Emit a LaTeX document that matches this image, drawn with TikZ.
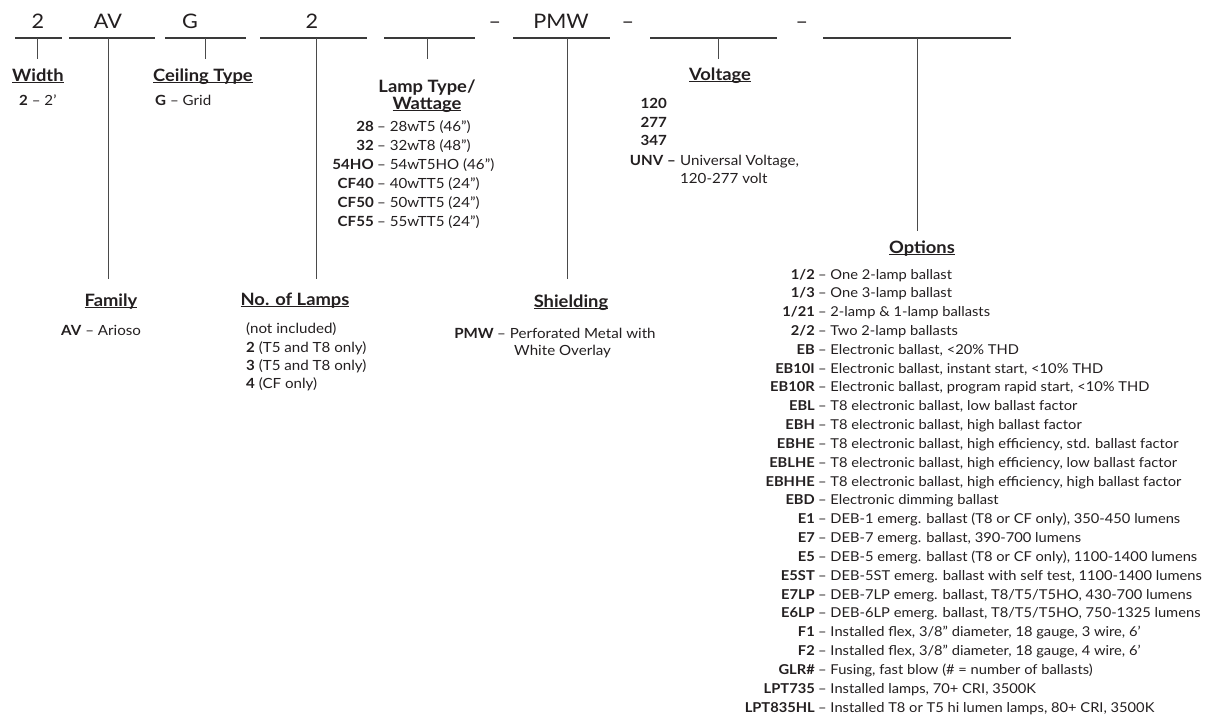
\documentclass[tikz,border=0pt]{standalone}
\usepackage{fontspec}
\setmainfont{Lato}[FakeStretch=1.08]
\definecolor{txt}{HTML}{231F20}
\definecolor{linec}{HTML}{3A3A3A}
\definecolor{tickc}{HTML}{4A4A4A}
\newcommand\ulx[1]{\setbox0\hbox{#1}\rlap{\rule[-2.4pt]{\wd0}{1.1pt}}\box0}
\begin{document}
\begin{tikzpicture}[x=1pt,y=-1pt]
\tikzset{
 code/.style={font=\fontsize{20}{20}\selectfont, anchor=base, inner sep=0pt, text=txt},
 seg/.style={draw=linec, line width=1.3pt},
 tickline/.style={draw=tickc, line width=1pt},
 ttl/.style={font=\fontsize{17}{17}\selectfont\bfseries, anchor=base, inner sep=0pt, text=txt},
 item/.style={font=\fontsize{14}{14}\selectfont, anchor=base west, inner sep=0pt, text=txt},
 key/.style={font=\fontsize{14}{14}\selectfont\bfseries, anchor=base east, inner sep=0pt, text=txt},
 oitem/.style={item, font=\fontsize{13.6}{13.6}\selectfont},
 okey/.style={key, font=\fontsize{13.6}{13.6}\selectfont\bfseries},
}
\useasboundingbox[fill=white] (0,0) rectangle (1207,715);

% top codes
\node[code] (c1) at (38,28) {2};
\node[code] (c2) at (108,28) {AV};
\node[code] (c3) at (190,28) {G};
\node[code] (c4) at (312,28) {2};
\node[code] (d1) at (495,28) {–};
\node[code] (c6) at (561,28) {PMW};
\node[code] (d2) at (628,28) {–};
\node[code] (d3) at (802,28) {–};

% underline segments
\coordinate (s1a) at (15,38);  \coordinate (s1b) at (62,38);
\coordinate (s2a) at (69,38);  \coordinate (s2b) at (155,38);
\coordinate (s3a) at (165,38); \coordinate (s3b) at (246,38);
\coordinate (s4a) at (260,38); \coordinate (s4b) at (367,38);
\coordinate (s5a) at (384,38); \coordinate (s5b) at (475,38);
\coordinate (s6a) at (513,38); \coordinate (s6b) at (610,38);
\coordinate (s7a) at (650,38); \coordinate (s7b) at (777,38);
\coordinate (s8a) at (823,38); \coordinate (s8b) at (1011,38);
\foreach \i in {1,...,8} \draw[seg] (s\i a) -- (s\i b);

% ticks
\coordinate (t1a) at (37,38);  \coordinate (t1b) at (37,59);
\coordinate (t2a) at (108,38); \coordinate (t2b) at (108,279);
\coordinate (t3a) at (205,38); \coordinate (t3b) at (205,59);
\coordinate (t4a) at (316,38); \coordinate (t4b) at (316,279);
\coordinate (t5a) at (427,38); \coordinate (t5b) at (427,59);
\coordinate (t6a) at (567,38); \coordinate (t6b) at (567,279);
\coordinate (t7a) at (718,38); \coordinate (t7b) at (718,59);
\coordinate (t8a) at (917,38); \coordinate (t8b) at (917,231);
\foreach \i in {1,...,8} \draw[tickline] (t\i a) -- (t\i b);

% Width
\node[ttl, anchor=base west] (wt) at (12,81) {\ulx{Width}};
\node[item] (wi) at (19,105) {\textbf{2} – 2'};

% Ceiling type
\node[ttl, anchor=base west] (ct) at (153,81) {\ulx{Ceiling Type}};
\node[item] (ci) at (155,105) {\textbf{G} – Grid};

% Lamp type
\node[ttl] (lt1) at (427,92) {Lamp Type/};
\node[ttl] (lt2) at (427,109) {\ulx{Wattage}};
\node[key] (lk1) at (374,131) {28};   \node[item] (li1) at (377,131) {– 28wT5 (46”)};
\node[key] (lk2) at (374,150) {32};   \node[item] (li2) at (377,150) {– 32wT8 (48”)};
\node[key] (lk3) at (374,169) {54HO}; \node[item] (li3) at (377,169) {– 54wT5HO (46”)};
\node[key] (lk4) at (374,188) {CF40}; \node[item] (li4) at (377,188) {– 40wTT5 (24”)};
\node[key] (lk5) at (374,207) {CF50}; \node[item] (li5) at (377,207) {– 50wTT5 (24”)};
\node[key] (lk6) at (374,226) {CF55}; \node[item] (li6) at (377,226) {– 55wTT5 (24”)};

% Voltage
\node[ttl] (vt) at (720,80) {\ulx{Voltage}};
\node[key] (vk1) at (667,108) {120};
\node[key] (vk2) at (667,127) {277};
\node[key] (vk3) at (667,145) {347};
\node[key] (vk4) at (676,165) {UNV –};
\node[item] (vi4) at (680,165) {Universal Voltage,};
\node[item] (vi5) at (680,183) {120-277 volt};

% Family
\node[ttl] (ft) at (111,306) {\ulx{Family}};
\node[item] (fi) at (61,335) {\textbf{AV} – Arioso};

% No. of lamps
\node[ttl] (nt) at (295,305) {\ulx{No. of Lamps}};
\node[item] (ni1) at (246,333) {(not included)};
\node[item] (ni2) at (246,352) {\textbf{2} (T5 and T8 only)};
\node[item] (ni3) at (246,370) {\textbf{3} (T5 and T8 only)};
\node[item] (ni4) at (246,388) {\textbf{4} (CF only)};

% Shielding
\node[ttl] (st) at (571,307) {\ulx{Shielding}};
\node[key] (sk) at (494,338) {PMW};
\node[item] (si1) at (497,338) {– Perforated Metal with};
\node[item] (si2) at (514,355) {White Overlay};

% Options
\node[ttl] (ot) at (922,253) {\ulx{Options}};
\newcommand\optitem[3]{%
 \node[okey] (ok#1) at (815,{279+#1*18.83}) {#2};
 \node[oitem] (od#1) at (818,{279+#1*18.83}) {– #3};}
\optitem{0}{1/2}{One 2-lamp ballast}
\optitem{1}{1/3}{One 3-lamp ballast}
\optitem{2}{1/21}{2-lamp \& 1-lamp ballasts}
\optitem{3}{2/2}{Two 2-lamp ballasts}
\optitem{4}{EB}{Electronic ballast, <20\% THD}
\optitem{5}{EB10I}{Electronic ballast, instant start, <10\% THD}
\optitem{6}{EB10R}{Electronic ballast, program rapid start, <10\% THD}
\optitem{7}{EBL}{T8 electronic ballast, low ballast factor}
\optitem{8}{EBH}{T8 electronic ballast, high ballast factor}
\optitem{9}{EBHE}{T8 electronic ballast, high efficiency, std. ballast factor}
\optitem{10}{EBLHE}{T8 electronic ballast, high efficiency, low ballast factor}
\optitem{11}{EBHHE}{T8 electronic ballast, high efficiency, high ballast factor}
\optitem{12}{EBD}{Electronic dimming ballast}
\optitem{13}{E1}{DEB-1 emerg. ballast (T8 or CF only), 350-450 lumens}
\optitem{14}{E7}{DEB-7 emerg. ballast, 390-700 lumens}
\optitem{15}{E5}{DEB-5 emerg. ballast (T8 or CF only), 1100-1400 lumens}
\optitem{16}{E5ST}{DEB-5ST emerg. ballast with self test, 1100-1400 lumens}
\optitem{17}{E7LP}{DEB-7LP emerg. ballast, T8/T5/T5HO, 430-700 lumens}
\optitem{18}{E6LP}{DEB-6LP emerg. ballast, T8/T5/T5HO, 750-1325 lumens}
\optitem{19}{F1}{Installed flex, 3/8” diameter, 18 gauge, 3 wire, 6’}
\optitem{20}{F2}{Installed flex, 3/8” diameter, 18 gauge, 4 wire, 6’}
\optitem{21}{GLR\#}{Fusing, fast blow (\# = number of ballasts)}
\optitem{22}{LPT735}{Installed lamps, 70+ CRI, 3500K}
\optitem{23}{LPT835HL}{Installed T8 or T5 hi lumen lamps, 80+ CRI, 3500K}
\end{tikzpicture}
\end{document}
